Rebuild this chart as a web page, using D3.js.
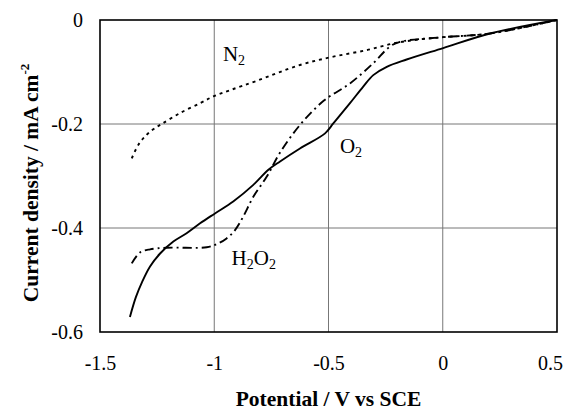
<!DOCTYPE html>
<html>
<head>
<meta charset="utf-8">
<script src="https://cdn.jsdelivr.net/npm/d3@7"></script>
<style>
  body { margin: 0; background: #fff; }
  svg text { font-family: "Liberation Serif", "DejaVu Serif", "Times New Roman", serif; fill: #000; }
</style>
</head>
<body>
<div id="chart"></div>
<script>
const xTicks = [-1.5, -1, -0.5, 0, 0.5]
const yTicks = [0, -0.2, -0.4, -0.6]

// O2 (solid)
const o2V = [-1.369, -1.343, -1.316, -1.281, -1.237, -1.179, -1.121, -1.062, -0.997, -0.917, -0.829, -0.763, -0.712, -0.625, -0.515, -0.479, -0.406, -0.348, -0.304, -0.245, -0.158, 0.002, 0.207, 0.5]
const o2I = [-0.571, -0.533, -0.504, -0.474, -0.449, -0.426, -0.410, -0.391, -0.372, -0.349, -0.317, -0.288, -0.272, -0.247, -0.218, -0.199, -0.160, -0.128, -0.106, -0.090, -0.076, -0.054, -0.026, 0]

// H2O2 (dash-dot)
const h2o2V = [-1.361, -1.325, -1.281, -1.208, -1.033, -0.989, -0.946, -0.909, -0.873, -0.829, -0.770, -0.712, -0.625, -0.520, -0.406, -0.304, -0.231, -0.187, 0.002, 0.207, 0.5]
const h2o2I = [-0.468, -0.447, -0.441, -0.438, -0.437, -0.431, -0.420, -0.404, -0.378, -0.340, -0.301, -0.255, -0.202, -0.155, -0.122, -0.083, -0.051, -0.042, -0.033, -0.026, 0]

// N2 (dotted)
const n2V = [-1.361, -1.332, -1.303, -1.267, -1.230, -1.150, -1.062, -1.004, -0.931, -0.814, -0.625, -0.479, -0.333, -0.216, -0.114, 0.002, 0.207, 0.5]
const n2I = [-0.266, -0.240, -0.224, -0.210, -0.200, -0.179, -0.160, -0.147, -0.135, -0.117, -0.0865, -0.0705, -0.058, -0.045, -0.038, -0.033, -0.026, 0]

const margin = { top: 20, right: 15, bottom: 80, left: 100 }
const W = 572
const H = 412
const width = W - margin.left - margin.right
const height = H - margin.top - margin.bottom
const serif = '"Liberation Serif", "DejaVu Serif", "Times New Roman", serif'

const svg = d3.select('#chart').append('svg')
  .attr('width', W)
  .attr('height', H)
  .attr('font-family', serif)

const g = svg.append('g')
  .attr('transform', `translate(${margin.left}, ${margin.top})`)

const x = d3.scaleLinear().domain([-1.5, 0.5]).range([0, width])
const y = d3.scaleLinear().domain([-0.6, 0]).range([height, 0])

// grid
g.append('g').selectAll('line').data(xTicks.slice(1, -1)).join('line')
  .attr('x1', (d) => x(d)).attr('x2', (d) => x(d))
  .attr('y1', 0).attr('y2', height)
  .attr('stroke', '#777').attr('stroke-width', 1)

g.append('g').selectAll('line').data(yTicks.slice(1, -1)).join('line')
  .attr('x1', 0).attr('x2', width)
  .attr('y1', (d) => y(d)).attr('y2', (d) => y(d))
  .attr('stroke', '#777').attr('stroke-width', 1)

// axes (labels only), plain hyphen for minus like the original
const fmt = (d) => String(d)
const xAxis = g.append('g')
  .attr('transform', `translate(0, ${height})`)
  .call(d3.axisBottom(x).tickValues(xTicks).tickSize(0).tickPadding(24).tickFormat(fmt))
const yAxis = g.append('g')
  .call(d3.axisLeft(y).tickValues(yTicks).tickSize(0).tickPadding(17).tickFormat(fmt))

;[xAxis, yAxis].forEach((a) => {
  a.attr('font-family', serif).attr('font-size', 20)
  a.select('.domain').remove()
  a.selectAll('text').attr('fill', '#000')
})
xAxis.selectAll('text').filter((d) => d === 0.5).attr('dx', -7)

// frame
g.append('rect')
  .attr('width', width).attr('height', height)
  .attr('fill', 'none').attr('stroke', '#000').attr('stroke-width', 1.6)

const line = d3.line()
  .x((d) => x(d[0]))
  .y((d) => y(d[1]))
  .curve(d3.curveCatmullRom.alpha(0.5))

const series = [
  { v: o2V, i: o2I, dash: null },
  { v: h2o2V, i: h2o2I, dash: '9,4,2,4' },
  { v: n2V, i: n2I, dash: '3,4' }
]

series.forEach((s) => {
  g.append('path')
    .datum(s.v.map((v, k) => [v, s.i[k]]))
    .attr('d', line)
    .attr('fill', 'none')
    .attr('stroke', '#000')
    .attr('stroke-width', 1.9)
    .attr('stroke-dasharray', s.dash)
})

// curve labels
function label (vx, iy, parts) {
  const t = g.append('text')
    .attr('x', x(vx)).attr('y', y(iy))
    .attr('font-size', 21)
  parts.forEach((p, k) => {
    t.append('tspan').attr('dy', k === 0 ? 0 : (k % 2 ? 4 : -4))
      .attr('font-size', k % 2 ? 14 : 21).text(p)
  })
}
label(-0.962, -0.079, ['N', '2'])
label(-0.450, -0.256, ['O', '2'])
label(-0.924, -0.471, ['H', '2', 'O', '2'])

// axis titles
svg.append('text')
  .attr('x', margin.left + width / 2)
  .attr('y', 406)
  .attr('text-anchor', 'middle')
  .attr('font-size', 21.5)
  .attr('font-weight', 'bold')
  .text('Potential / V vs  SCE')

const yt = svg.append('text')
  .attr('transform', `translate(38, 183) rotate(-90)`)
  .attr('text-anchor', 'middle')
  .attr('font-size', 21.5)
  .attr('font-weight', 'bold')
yt.append('tspan').text('Current density / mA cm')
yt.append('tspan').attr('dy', -9).attr('font-size', 13).text('-2')
</script>
</body>
</html>
